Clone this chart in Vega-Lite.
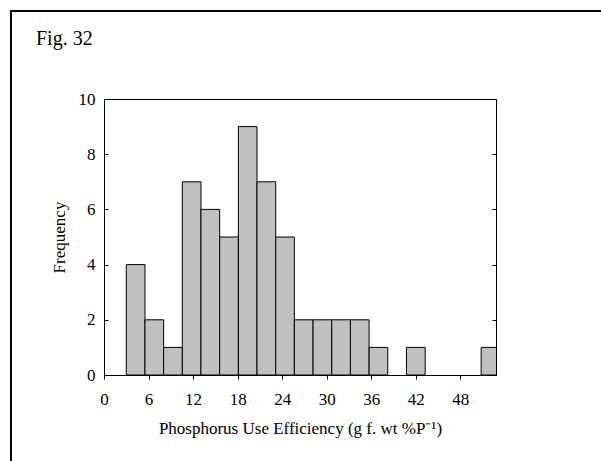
{
  "$schema": "https://vega.github.io/schema/vega-lite/v6.json",
  "width": 392,
  "height": 276,
  "autosize": {"type": "none"},
  "padding": {"left": 104, "top": 99, "right": 105, "bottom": 86},
  "background": "white",
  "config": {
    "view": {"stroke": "black", "strokeWidth": 1},
    "font": "Liberation Serif",
    "axis": {
      "grid": false,
      "domainColor": "black",
      "tickColor": "black",
      "labelColor": "black",
      "titleColor": "black",
      "labelFont": "Liberation Serif",
      "titleFont": "Liberation Serif",
      "labelFontSize": 17,
      "titleFontSize": 17,
      "titleFontWeight": "normal",
      "labelOverlap": false,
      "labelFlush": false
    }
  },
  "resolve": {"axis": {"y": "independent"}},
  "layer": [
    {
      "data": {
        "values": [
          {"bin_start": 3.0, "bin_end": 5.52, "count": 4},
          {"bin_start": 5.52, "bin_end": 8.03, "count": 2},
          {"bin_start": 8.03, "bin_end": 10.55, "count": 1},
          {"bin_start": 10.55, "bin_end": 13.06, "count": 7},
          {"bin_start": 13.06, "bin_end": 15.58, "count": 6},
          {"bin_start": 15.58, "bin_end": 18.1, "count": 5},
          {"bin_start": 18.1, "bin_end": 20.61, "count": 9},
          {"bin_start": 20.61, "bin_end": 23.13, "count": 7},
          {"bin_start": 23.13, "bin_end": 25.64, "count": 5},
          {"bin_start": 25.64, "bin_end": 28.16, "count": 2},
          {"bin_start": 28.16, "bin_end": 30.68, "count": 2},
          {"bin_start": 30.68, "bin_end": 33.19, "count": 2},
          {"bin_start": 33.19, "bin_end": 35.71, "count": 2},
          {"bin_start": 35.71, "bin_end": 38.22, "count": 1},
          {"bin_start": 40.74, "bin_end": 43.26, "count": 1},
          {"bin_start": 50.8, "bin_end": 53.32, "count": 1}
        ]
      },
      "mark": {"type": "rect", "fill": "#c0c0c0", "stroke": "black", "strokeWidth": 1, "clip": true},
      "encoding": {
        "x": {
          "field": "bin_start",
          "type": "quantitative",
          "scale": {"domain": [0, 52.8], "nice": false, "zero": false},
          "axis": {
            "values": [0, 6, 12, 18, 24, 30, 36, 42, 48],
            "tickSize": 4,
            "labelPadding": 12,
            "title": "Phosphorus Use Efficiency (g f. wt %P⁻¹)",
            "titlePadding": 13
          }
        },
        "x2": {"field": "bin_end"},
        "y": {
          "field": "count",
          "type": "quantitative",
          "scale": {"domain": [0, 10], "nice": false},
          "axis": {
            "orient": "left",
            "values": [0, 2, 4, 6, 8, 10],
            "tickSize": -4,
            "labelPadding": 13,
            "title": "Frequency",
            "titlePadding": 10
          }
        },
        "y2": {"datum": 0}
      }
    },
    {
      "data": {"values": [{"part": "frame", "label": "Fig. 32"}]},
      "layer": [
        {
          "mark": {"type": "rect", "fill": null, "stroke": "black", "strokeWidth": 2, "clip": false},
          "encoding": {
            "x": {"datum": -12.53, "type": "quantitative", "scale": {"domain": [0, 52.8], "nice": false, "zero": false}},
            "x2": {"datum": 70},
            "y": {
              "datum": 13.19,
              "type": "quantitative",
              "scale": {"domain": [0, 10], "nice": false},
              "axis": {
                "orient": "right",
                "values": [0, 2, 4, 6, 8, 10],
                "tickSize": -4,
                "labels": false,
                "domain": false,
                "title": null
              }
            },
            "y2": {"datum": -5}
          }
        },
        {
          "mark": {"type": "text", "align": "left", "baseline": "alphabetic", "font": "Liberation Serif", "fontSize": 20, "color": "black", "clip": false},
          "encoding": {
            "text": {"field": "label"},
            "x": {"datum": -9.16, "type": "quantitative"},
            "y": {"datum": 11.96, "type": "quantitative"}
          }
        }
      ]
    }
  ]
}
